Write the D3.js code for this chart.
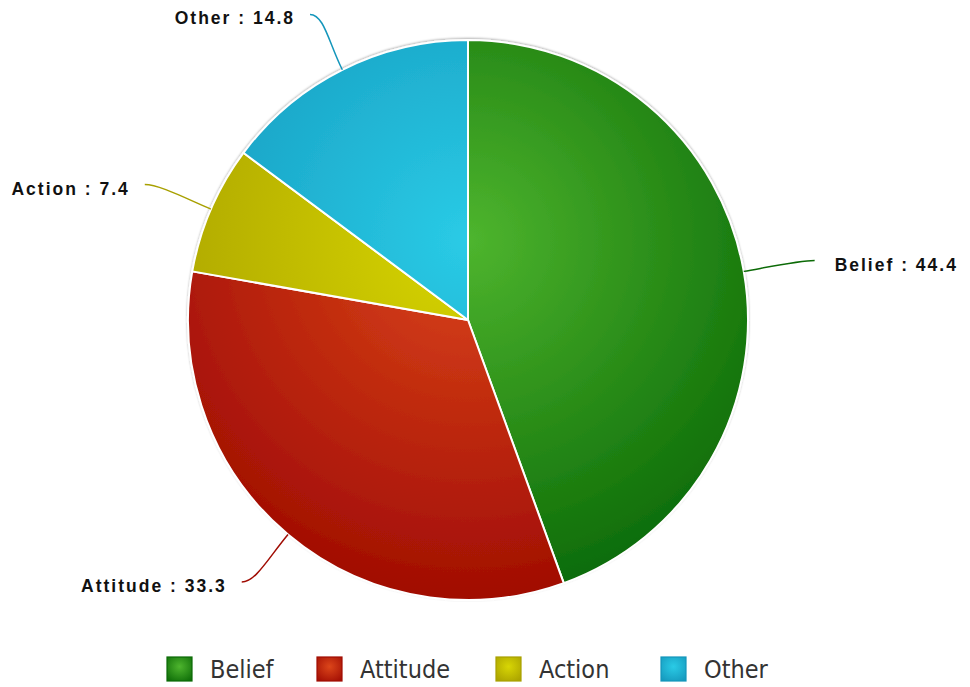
<!DOCTYPE html>
<html>
<head>
<meta charset="utf-8">
<script src="https://cdn.jsdelivr.net/npm/d3@7"></script>
<style>
  html, body { margin: 0; padding: 0; background: #fff; }
  svg { display: block; }
</style>
</head>
<body>
<svg id="chart" width="970" height="687"></svg>
<script>
// Share of responses by category
const categories = ["Belief", "Attitude", "Action", "Other"];
const values = [44.4, 33.3, 7.4, 14.8];
// light (centre) and dark (rim) tone for each slice
const lightColors = ["#4eb52e", "#dc461a", "#d8d604", "#2acbe6"];
const darkColors  = ["#0b6a06", "#a00c03", "#a8a000", "#1496bb"];

const width = 970, height = 687;
const cx = 468, cy = 320, radius = 280;

const svg = d3.select("#chart");
const defs = svg.append("defs");

categories.forEach((c, i) => {
  // slice fill: radial shading, brightest a little above the pie centre
  const g = defs.append("radialGradient")
    .attr("id", "grad" + i)
    .attr("gradientUnits", "userSpaceOnUse")
    .attr("cx", 0).attr("cy", -80)
    .attr("r", radius * 1.3);
  g.append("stop").attr("offset", "0%").attr("stop-color", lightColors[i]);
  g.append("stop").attr("offset", "100%").attr("stop-color", darkColors[i]);

  // legend swatch fill
  const lg = defs.append("radialGradient")
    .attr("id", "lgrad" + i)
    .attr("cx", 0.5).attr("cy", 0.4).attr("r", 0.75);
  lg.append("stop").attr("offset", "0%").attr("stop-color", lightColors[i]);
  lg.append("stop").attr("offset", "100%").attr("stop-color", darkColors[i]);
});

const shadow = defs.append("filter").attr("id", "shadow")
  .attr("x", "-10%").attr("y", "-10%").attr("width", "120%").attr("height", "120%");
shadow.append("feDropShadow").attr("dx", 0).attr("dy", -1)
  .attr("stdDeviation", 1.2).attr("flood-color", "#000").attr("flood-opacity", 0.3);

const data = categories.map((c, i) => ({ name: c, value: values[i], index: i }));

const pie = d3.pie().sort(null).value(d => d.value);
const arcs = pie(data);
const arc = d3.arc().innerRadius(0).outerRadius(radius);

const plot = svg.append("g")
  .attr("transform", `translate(${cx},${cy})`)
  .attr("filter", "url(#shadow)");

plot.selectAll("path")
  .data(arcs)
  .join("path")
  .attr("d", arc)
  .attr("fill", d => `url(#grad${d.data.index})`)
  .attr("stroke", "#fff")
  .attr("stroke-width", 2)
  .attr("stroke-linejoin", "round");

// leader lines and labels; label anchors sit on a slightly flattened ring
const labelRx = 352, labelRy = 342;
const labels = svg.append("g");
arcs.forEach(d => {
  const a = (d.startAngle + d.endAngle) / 2;
  const sx = Math.sin(a), sy = -Math.cos(a);
  const p0 = [cx + radius * sx, cy + radius * sy];
  const p1 = [cx + (radius + 30) * sx, cy + (radius + 30) * sy];
  const pe = [cx + labelRx * sx, cy + labelRy * sy];
  const right = sx > 0;
  const c2 = [pe[0] + (right ? -14 : 14), pe[1]];
  const path = d3.path();
  path.moveTo(p0[0], p0[1]);
  path.bezierCurveTo(p1[0], p1[1], c2[0], c2[1], pe[0], pe[1]);
  labels.append("path")
    .attr("d", path.toString())
    .attr("fill", "none")
    .attr("stroke", darkColors[d.data.index])
    .attr("stroke-width", 1.5);
  labels.append("text")
    .attr("x", right ? pe[0] + 20 : pe[0] - 15)
    .attr("y", pe[1] + 4)
    .attr("text-anchor", right ? "start" : "end")
    .attr("dominant-baseline", "central")
    .attr("font-family", "'Liberation Sans', Arial, sans-serif")
    .attr("font-weight", "bold")
    .attr("font-size", 17.5)
    .attr("letter-spacing", 2)
    .attr("fill", "#111")
    .text(`${d.data.name} : ${d.data.value}`);
});

// legend
const legendX = [167, 317, 496, 661];
const legend = svg.append("g");
data.forEach((d, i) => {
  const g = legend.append("g").attr("transform", `translate(${legendX[i]},657)`);
  g.append("rect")
    .attr("width", 25).attr("height", 24)
    .attr("fill", `url(#lgrad${i})`)
    .attr("stroke", darkColors[i])
    .attr("stroke-width", 1.2);
  g.append("text")
    .attr("x", 43).attr("y", 12.5)
    .attr("dominant-baseline", "central")
    .attr("font-family", "'DejaVu Sans Condensed', 'DejaVu Sans', sans-serif")
    .attr("font-stretch", "condensed")
    .attr("font-size", 25)
    .attr("fill", "#333")
    .text(d.name);
});
</script>
</body>
</html>
